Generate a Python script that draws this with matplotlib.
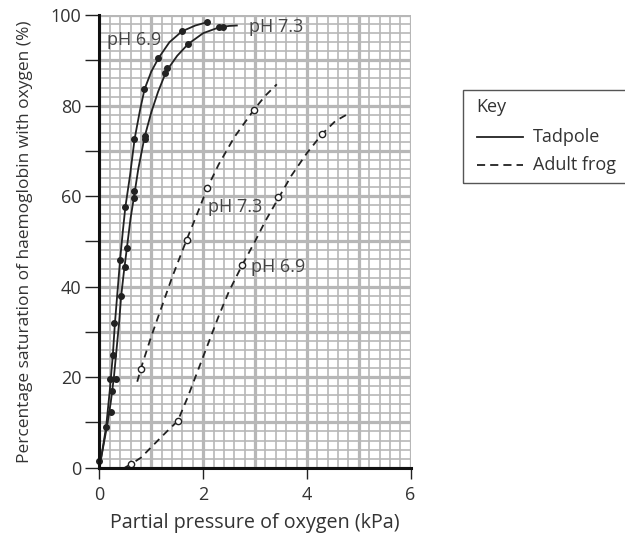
import matplotlib
matplotlib.use("Agg")
import matplotlib.pyplot as plt
from matplotlib.ticker import MultipleLocator
from matplotlib.lines import Line2D
from matplotlib.patches import Rectangle

plt.rcParams['font.family'] = ['Open Sans', 'DejaVu Sans']

# ---------------- data ----------------
# Tadpole, pH 6.9 (left solid curve)
tad69_line_x = [0, 0.06, 0.13, 0.2, 0.26, 0.3, 0.35, 0.4, 0.45, 0.5, 0.59, 0.68, 0.78, 0.87, 1.0, 1.14, 1.35, 1.59, 1.85, 2.07]
tad69_line_y = [0, 4, 9, 17, 25, 32, 39, 46, 52, 57.5, 64.5, 72.7, 78.8, 83.6, 87.5, 90.5, 94, 96.4, 97.7, 98.4]
tad69_pts_x = [0.13, 0.206, 0.27, 0.283, 0.40, 0.495, 0.675, 0.867, 1.137, 1.59, 2.07]
tad69_pts_y = [9.0, 19.5, 24.9, 31.9, 45.9, 57.7, 72.7, 83.6, 90.5, 96.4, 98.4]

# Tadpole, pH 7.3 (right solid curve)
tad73_line_x = [0, 0.08, 0.16, 0.22, 0.28, 0.33, 0.38, 0.42, 0.47, 0.53, 0.6, 0.675, 0.75, 0.87, 1.0, 1.13, 1.29, 1.5, 1.71, 2.0, 2.31, 2.5, 2.65]
tad73_line_y = [0, 5, 10, 14.5, 20, 26, 32, 37.9, 43, 48.5, 55, 60.4, 66, 73, 78.5, 83, 87.6, 91, 93.6, 96, 97.3, 97.6, 97.7]
tad73_pts_x = [0.0, 0.22, 0.24, 0.32, 0.42, 0.495, 0.53, 0.675, 0.675, 0.87, 0.87, 1.27, 1.30, 1.71, 2.31, 2.39]
tad73_pts_y = [1.5, 12.4, 16.9, 19.5, 37.9, 44.4, 48.5, 59.6, 61.2, 72.6, 73.3, 87.1, 88.2, 93.6, 97.3, 97.3]

# Adult frog, pH 7.3 (left dashed curve)
frog73_line_x = [0.73, 0.8, 1.0, 1.2, 1.4, 1.68, 1.9, 2.08, 2.3, 2.6, 2.98, 3.2, 3.42]
frog73_line_y = [19, 21.9, 29, 35.5, 42, 50.3, 56.5, 61.8, 67, 73, 79.1, 82.2, 84.7]
frog73_pts_x = [0.80, 1.68, 2.08, 2.98]
frog73_pts_y = [21.9, 50.3, 61.8, 79.1]

# Adult frog, pH 6.9 (right dashed curve)
frog69_line_x = [0.49, 0.61, 0.8, 1.04, 1.3, 1.51, 1.7, 1.9, 2.1, 2.3, 2.5, 2.75, 3.0, 3.2, 3.45, 3.7, 4.0, 4.3, 4.55, 4.83]
frog69_line_y = [0, 0.8, 2.2, 5, 8, 10.3, 15.5, 21.5, 27.5, 33.5, 39, 44.7, 50, 54.5, 59.5, 64.5, 69.5, 73.8, 76.6, 78.4]
frog69_pts_x = [0.61, 1.51, 2.75, 3.45, 4.30]
frog69_pts_y = [0.8, 10.3, 44.7, 59.9, 73.8]

x_ticks = [0, 2, 4, 6]
y_ticks = [0, 20, 40, 60, 80, 100]
y_minor_ticks = [10, 30, 50, 70, 90]

# ---------------- figure ----------------
fig = plt.figure(figsize=(6.25, 5.35), dpi=100)
rect = [0.159, 0.1258, 0.498, 0.846]
txt = '#333333'
gridc = '#b7b7b7'

# grid (graph paper) axes
axg = fig.add_axes(rect)
axg.set_xlim(0, 6)
axg.set_ylim(0, 100)
axg.xaxis.set_major_locator(MultipleLocator(1))
axg.xaxis.set_minor_locator(MultipleLocator(0.2))
axg.yaxis.set_major_locator(MultipleLocator(10))
axg.yaxis.set_minor_locator(MultipleLocator(2))
axg.grid(which='major', color=gridc, lw=2.3)
axg.grid(which='minor', color=gridc, lw=1.2)
axg.tick_params(which='both', length=0, labelbottom=False, labelleft=False)
for s in axg.spines.values():
    s.set_visible(False)

# data axes
ax = fig.add_axes(rect)
ax.patch.set_visible(False)
ax.set_xlim(0, 6)
ax.set_ylim(0, 100)
ax.set_xticks(x_ticks)
ax.set_yticks(y_ticks)
ax.set_yticks(y_minor_ticks, minor=True)
ax.tick_params(axis='y', which='both', direction='out', length=10, width=1, color='#222222',
               labelsize=13, labelcolor=txt, pad=3)
ax.tick_params(axis='x', which='both', direction='out', length=8, width=1, color='#222222',
               labelsize=13, labelcolor=txt, pad=5)
ax.spines['top'].set_visible(False)
ax.spines['right'].set_visible(False)
ax.spines['left'].set_linewidth(2.2)
ax.spines['bottom'].set_linewidth(2.2)
ax.spines['left'].set_color('#111111')
ax.spines['bottom'].set_color('#111111')

solid_c = '#222222'
ax.plot(tad69_line_x, tad69_line_y, color=solid_c, lw=1.3, clip_on=False)
ax.plot(tad73_line_x, tad73_line_y, color=solid_c, lw=1.3, clip_on=False)
ax.plot(tad69_pts_x, tad69_pts_y, 'o', color=solid_c, ms=4, clip_on=False)
ax.plot(tad73_pts_x, tad73_pts_y, 'o', color=solid_c, ms=4, clip_on=False)

dash_c = '#222222'
ax.plot(frog73_line_x, frog73_line_y, color=dash_c, lw=1.3, dashes=(4, 3), clip_on=False)
ax.plot(frog69_line_x, frog69_line_y, color=dash_c, lw=1.3, dashes=(4, 3), clip_on=False)
ax.plot(frog73_pts_x, frog73_pts_y, 'o', mfc='white', mec=dash_c, mew=1.0, ms=4.5, clip_on=False)
ax.plot(frog69_pts_x, frog69_pts_y, 'o', mfc='white', mec=dash_c, mew=1.0, ms=4.5, clip_on=False)

lab_c = '#444444'
ax.text(0.14, 94.6, 'pH 6.9', fontsize=13, color=lab_c, va='center', ha='left')
ax.text(2.89, 97.3, 'pH 7.3', fontsize=13, color=lab_c, va='center', ha='left')
ax.text(2.10, 57.6, 'pH 7.3', fontsize=13, color=lab_c, va='center', ha='left')
ax.text(2.93, 44.4, 'pH 6.9', fontsize=13, color=lab_c, va='center', ha='left')

ax.set_xlabel('Partial pressure of oxygen (kPa)', fontsize=14.2, color=txt, labelpad=7)
ax.set_ylabel('Percentage saturation of haemoglobin with oxygen (%)', fontsize=12.5, color=txt, labelpad=12.5)

# key
fig.patches.append(Rectangle((0.741, 0.658), 0.262, 0.174, transform=fig.transFigure,
                             fill=False, edgecolor='#555555', lw=1.0))
fig.text(0.762, 0.800, 'Key', fontsize=13, color=txt, va='center', ha='left')
fig.lines.append(Line2D([0.763, 0.837], [0.7445, 0.7445], transform=fig.transFigure,
                        color=solid_c, lw=1.3))
fig.text(0.853, 0.7445, 'Tadpole', fontsize=13, color=txt, va='center', ha='left')
fig.lines.append(Line2D([0.763, 0.837], [0.6916, 0.6916], transform=fig.transFigure,
                        color=dash_c, lw=1.3, dashes=(4.5, 2.8)))
fig.text(0.853, 0.6916, 'Adult frog', fontsize=13, color=txt, va='center', ha='left')

fig.savefig('out.png', dpi=100)
